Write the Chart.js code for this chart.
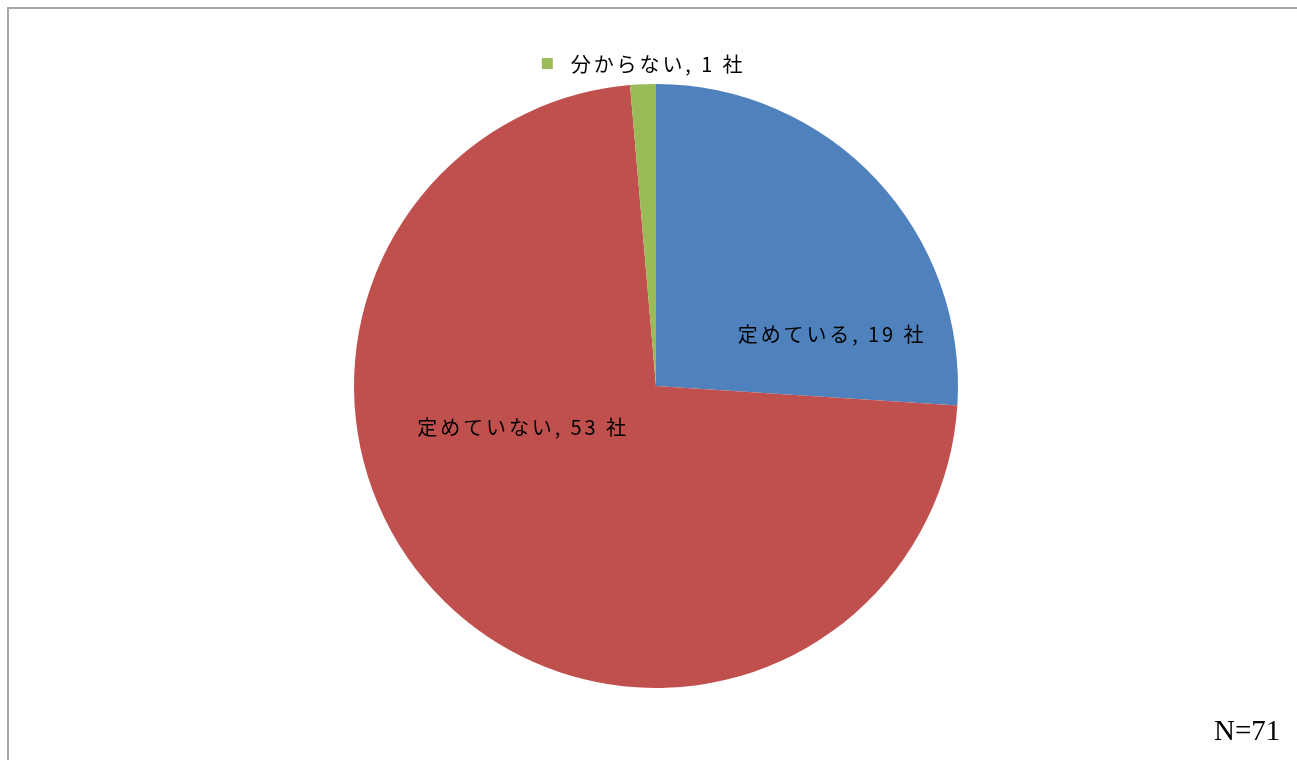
<!DOCTYPE html>
<html>
<head>
<meta charset="utf-8">
<script src="https://cdn.jsdelivr.net/npm/chart.js@4/dist/chart.umd.min.js"></script>
<style>
  html, body { margin: 0; padding: 0; background: #fff; overflow: hidden; }
  #wrap { position: relative; width: 1297px; height: 760px; }
  #frame { position: absolute; left: 7px; top: 7px; width: 1300px; height: 770px; border-left: 2px solid #a6a6a6; border-top: 2px solid #a6a6a6; box-sizing: border-box; pointer-events: none; }
  canvas { position: absolute; left: 0; top: 0; }
</style>
</head>
<body>
<div id="wrap">
  <canvas id="pie" width="1297" height="760"></canvas>
  <div id="frame"></div>
</div>
<script>
/* data */
const labels = ['定めている', '定めていない', '分からない'];
const counts = [19, 53, 1];
const colors = ['#4f81bd', '#c0504d', '#9bbb59'];
const unit = '社';
const noteText = 'N=71';

/* label spots, as fraction of the radius from the pie centre */
const spots = [[0.583, -0.172], [-0.440, 0.136], [0.007, -1.066]];

const pieLabels = {
  id: 'pieLabels',
  afterDatasetsDraw(chart) {
    const ctx = chart.ctx;
    const arcs = chart.getDatasetMeta(0).data;
    const cx = arcs[0].x, cy = arcs[0].y, r = arcs[0].outerRadius;
    ctx.save();
    ctx.font = '20px "Noto Sans CJK JP"';
    ctx.letterSpacing = '2.9px';
    ctx.fillStyle = '#000';
    ctx.textAlign = 'center';
    ctx.textBaseline = 'middle';
    counts.forEach((v, i) => {
      const x = cx + spots[i][0] * r, y = cy + spots[i][1] * r;
      const txt = `${labels[i]}, ${v} ${unit}`;
      ctx.fillText(txt, x, y);
      // outside label gets a legend key
      if (i === 2) {
        const w = ctx.measureText(txt).width;
        ctx.fillStyle = colors[i];
        ctx.fillRect(x - w / 2 - 29, y - 6, 11, 11);
        ctx.fillStyle = '#000';
      }
    });
    ctx.letterSpacing = '0px';
    ctx.font = '29px "Liberation Serif"';
    ctx.textAlign = 'left';
    ctx.textBaseline = 'alphabetic';
    ctx.fillText(noteText, 1214, 740);
    ctx.restore();
  }
};

new Chart(document.getElementById('pie'), {
  type: 'pie',
  data: {
    labels: labels,
    datasets: [{ data: counts, backgroundColor: colors, borderWidth: 0 }]
  },
  options: {
    responsive: false,
    animation: false,
    layout: { padding: { left: 15, right: 0, top: 84, bottom: 72 } },
    plugins: { legend: { display: false }, tooltip: { enabled: false } }
  },
  plugins: [pieLabels]
});
</script>
</body>
</html>
